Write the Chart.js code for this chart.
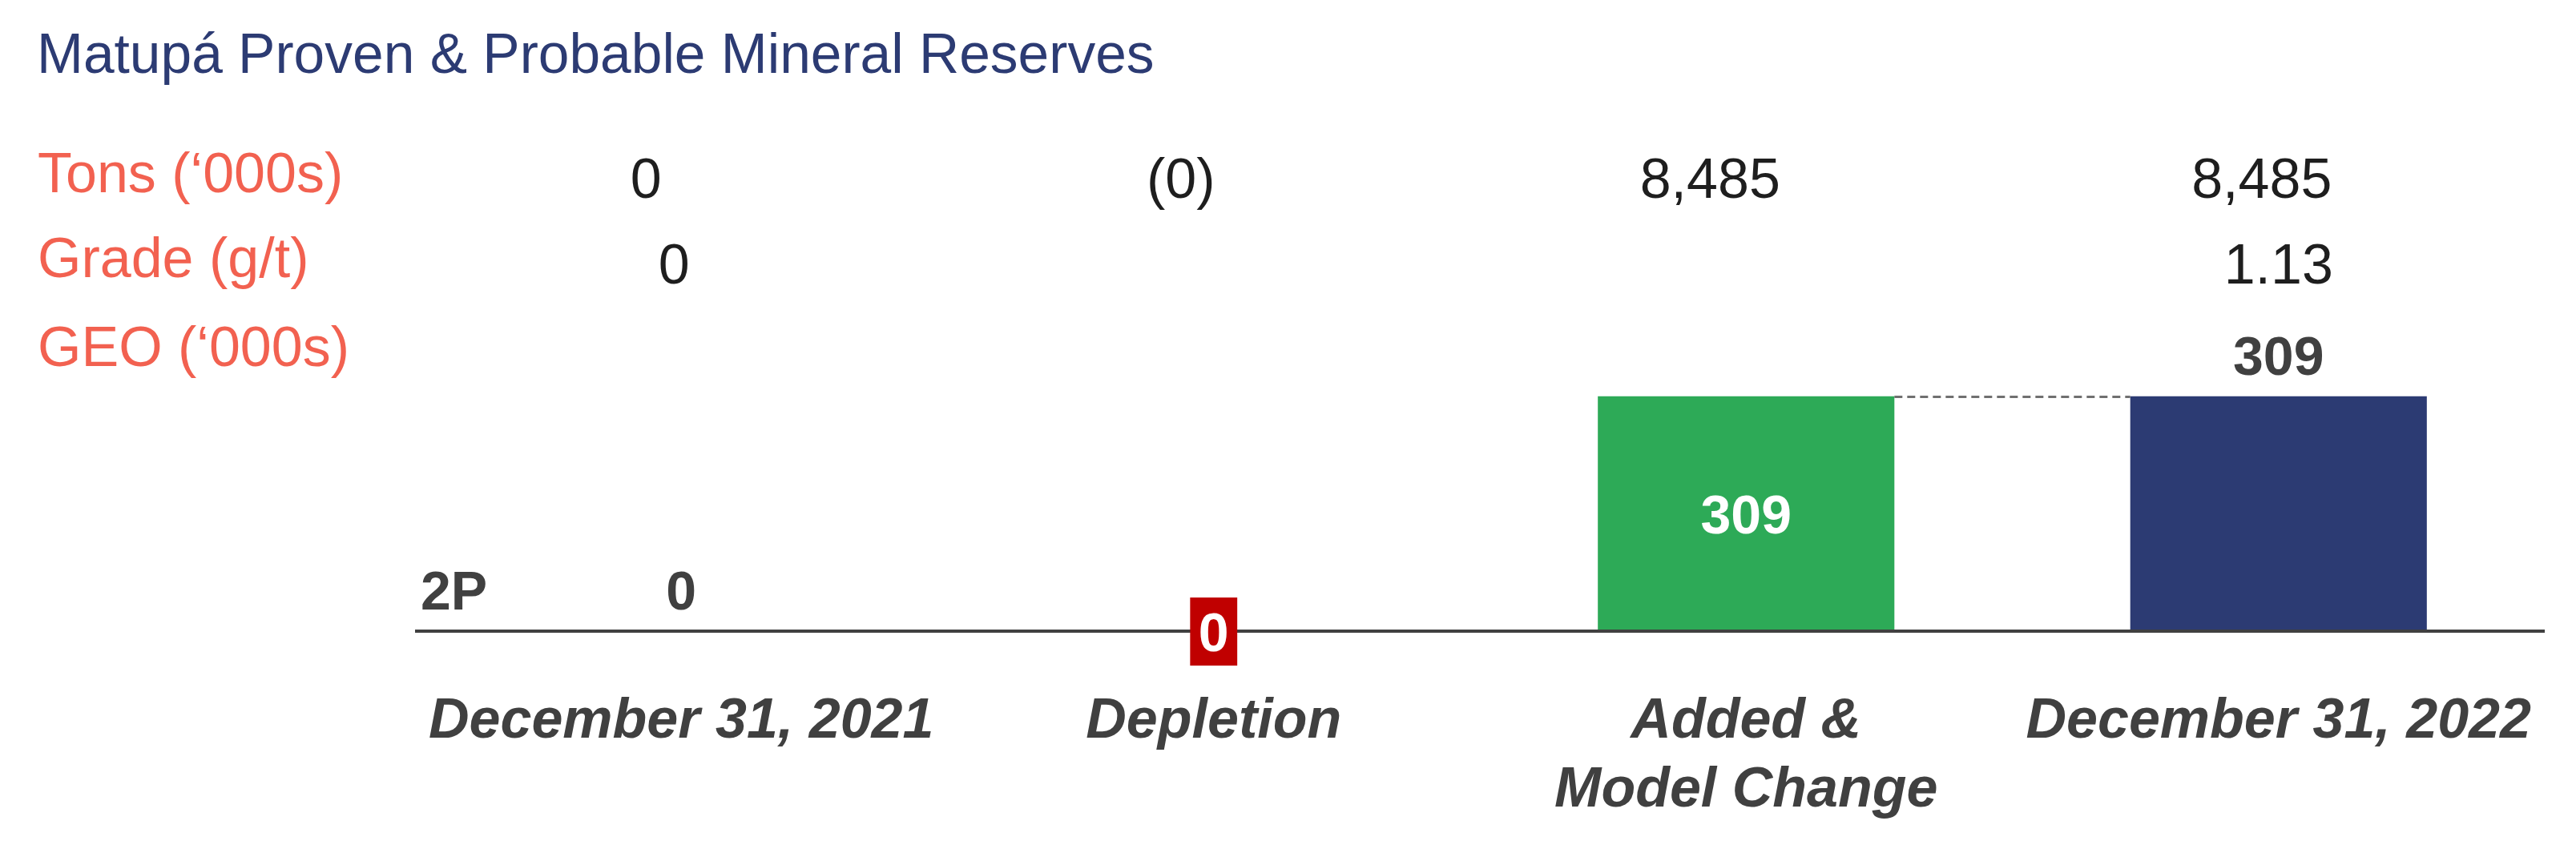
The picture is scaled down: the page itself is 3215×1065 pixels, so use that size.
<!DOCTYPE html>
<html>
<head>
<meta charset="utf-8">
<script src="https://cdn.jsdelivr.net/npm/chart.js@4/dist/chart.umd.min.js"></script>
<style>
  html, body { margin: 0; padding: 0; background: #ffffff; }
  #wrap { width: 3215px; height: 1065px; }
</style>
</head>
<body>
<div id="wrap"><canvas id="c" width="3215" height="1065"></canvas></div>
<script>
// ---------- data ----------
const chartTitle = 'Matupá Proven & Probable Mineral Reserves';
const categories = [['December 31, 2021'], ['Depletion'], ['Added &', 'Model Change'], ['December 31, 2022']];
const barKinds = ['total', 'change', 'change', 'total'];
const geoValues = [0, 0, 309, 309];
const geoLabels = ['0', '0', '309', '309'];
const rowTitles = ['Tons (‘000s)', 'Grade (g/t)', 'GEO (‘000s)'];
const tonsRow = ['0', '(0)', '8,485', '8,485'];
const gradeRow = ['0', '', '', '1.13'];
const seriesTag = '2P';

// ---------- styles ----------
const NAVY = '#2C3B73', GREEN = '#2DAA57', RED = '#C00000', CORAL = '#F26150', DARK = '#404040', INK = '#1E1E1E';
const FONT = '"Liberation Sans", Arial, Helvetica, sans-serif';
const tonsOffsets = [-44, -41, -45, -21];
const gradeOffsets = [-9, 0, 0, 0];

// waterfall floating ranges
let running = 0;
const floating = geoValues.map((v, i) => {
  if (barKinds[i] === 'total') { running = v; return [0, v]; }
  const s = running; running += v; return [Math.min(s, running), Math.max(s, running)];
});
const barColors = geoValues.map((v, i) => barKinds[i] === 'total' ? NAVY : (v <= 0 ? RED : GREEN));

const overlay = {
  id: 'overlay',
  afterDraw(chart) {
    const ctx = chart.ctx, xs = chart.scales.x, ys = chart.scales.y, area = chart.chartArea;
    const meta = chart.getDatasetMeta(0);
    ctx.save();
    ctx.textAlign = 'left'; ctx.textBaseline = 'alphabetic';
    // title
    ctx.fillStyle = NAVY; ctx.font = '69.5px ' + FONT;
    ctx.fillText(chartTitle, 46, 91);
    // row titles
    ctx.fillStyle = CORAL; ctx.font = '70px ' + FONT;
    [240, 346, 457].forEach((y, i) => ctx.fillText(rowTitles[i], 47, y));
    // table values
    ctx.fillStyle = INK; ctx.font = '70px ' + FONT; ctx.textAlign = 'center';
    categories.forEach((c, i) => {
      const cx = xs.getPixelForValue(i);
      if (tonsRow[i]) ctx.fillText(tonsRow[i], cx + tonsOffsets[i], 247);
      if (gradeRow[i]) ctx.fillText(gradeRow[i], cx + gradeOffsets[i], 354);
    });
    // dashed connectors
    ctx.strokeStyle = '#707070'; ctx.lineWidth = 3; ctx.setLineDash([10, 6]);
    for (let i = 0; i < meta.data.length - 1; i++) {
      const a = meta.data[i], b = meta.data[i + 1];
      const endVal = (barKinds[i + 1] === 'total') ? floating[i + 1][1] : floating[i][1];
      const y = Math.round(ys.getPixelForValue(endVal)) + 0.5;
      ctx.beginPath();
      ctx.moveTo(a.x + a.width / 2, y); ctx.lineTo(b.x - b.width / 2, y); ctx.stroke();
    }
    ctx.setLineDash([]);
    // baseline axis
    const y0 = ys.getPixelForValue(0);
    ctx.strokeStyle = DARK; ctx.lineWidth = 4;
    ctx.beginPath(); ctx.moveTo(area.left, y0); ctx.lineTo(area.right, y0); ctx.stroke();
    // bar labels
    const fs = 68;
    ctx.font = 'bold ' + fs + 'px ' + FONT; ctx.textAlign = 'center';
    meta.data.forEach((bar, i) => {
      const label = geoLabels[i];
      if (barKinds[i] === 'total') {
        ctx.fillStyle = DARK;
        ctx.fillText(label, bar.x, Math.min(bar.y, bar.base) - 27);
      } else if (geoValues[i] === 0) {
        const w = ctx.measureText(label).width + 21, h = 85;
        const cy = y0 + 0.5;
        ctx.fillStyle = RED;
        ctx.fillRect(bar.x - w / 2, cy - h / 2, w, h);
        ctx.fillStyle = '#ffffff';
        ctx.fillText(label, bar.x, cy + 0.36 * fs);
      } else {
        ctx.fillStyle = '#ffffff';
        ctx.fillText(label, bar.x, (bar.y + bar.base) / 2 + 0.36 * fs);
      }
    });
    // series tag
    ctx.fillStyle = DARK; ctx.textAlign = 'left';
    ctx.fillText(seriesTag, area.left + 7, Math.min(meta.data[0].y, meta.data[0].base) - 27);
    // category labels
    ctx.font = 'italic bold 70px ' + FONT; ctx.textAlign = 'center'; ctx.fillStyle = DARK;
    categories.forEach((lines, i) => {
      const cx = xs.getPixelForValue(i);
      lines.forEach((t, k) => ctx.fillText(t, cx, 921 + k * 86));
    });
    ctx.restore();
  }
};

new Chart(document.getElementById('c'), {
  type: 'bar',
  data: {
    labels: categories,
    datasets: [{
      label: 'GEO (‘000s)',
      data: floating,
      backgroundColor: barColors,
      borderWidth: 0,
      barPercentage: 0.557,
      categoryPercentage: 1
    }]
  },
  options: {
    responsive: false,
    devicePixelRatio: 1,
    animation: false,
    layout: { padding: { left: 518, right: 39, top: 361, bottom: 277 } },
    scales: {
      x: { display: false },
      y: { display: false, min: 0, max: 450 }
    },
    plugins: { legend: { display: false }, tooltip: { enabled: false }, title: { display: false } }
  },
  plugins: [overlay]
});
</script>
</body>
</html>
